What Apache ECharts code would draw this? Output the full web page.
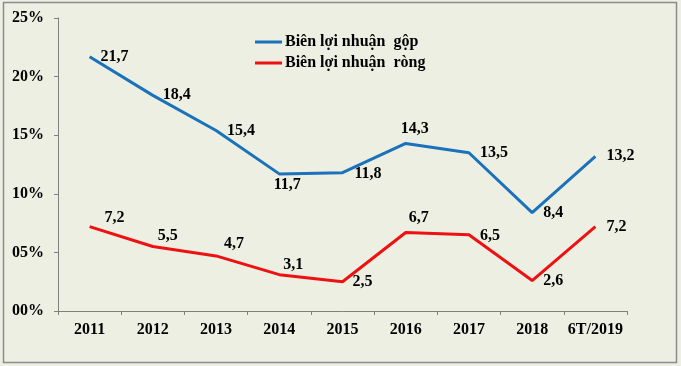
<!DOCTYPE html>
<html>
<head>
<meta charset="utf-8">
<script src="https://cdn.jsdelivr.net/npm/echarts@6/dist/echarts.min.js"></script>
<style>
html,body{margin:0;padding:0;background:#eeefe3;}
#chart{width:681px;height:366px;}
</style>
</head>
<body>
<div id="chart"></div>
<script>
// ---- data ----
var categories = ['2011','2012','2013','2014','2015','2016','2017','2018','6T/2019'];
var grossMargin = [21.7, 18.4, 15.4, 11.7, 11.8, 14.3, 13.5, 8.4, 13.2];
var netMargin = [7.2, 5.5, 4.7, 3.1, 2.5, 6.7, 6.5, 2.6, 7.2];
var seriesNames = ['Biên lợi nhuận  gộp', 'Biên lợi nhuận  ròng'];
var yTicks = [0, 5, 10, 15, 20, 25];

// ---- label placement (style) ----
var grossPlace = [
  {p:'right', d:11, o:[0,0]},
  {p:'right', d:10, o:[0,0]},
  {p:'right', d:11, o:[0,0]},
  {p:'bottom', d:3, o:[8,0]},
  {p:'right', d:12, o:[0,1]},
  {p:'top', d:7, o:[9,0]},
  {p:'right', d:11, o:[0,0]},
  {p:'right', d:11, o:[0,0]},
  {p:'right', d:11, o:[0,0]}
];
var netPlace = [
  {p:'right', d:15, o:[0,-9]},
  {p:'top', d:3, o:[15,0]},
  {p:'top', d:4, o:[18,0]},
  {p:'top', d:2, o:[14,0]},
  {p:'right', d:10, o:[0,0]},
  {p:'top', d:7, o:[13,0]},
  {p:'right', d:11, o:[0,1]},
  {p:'right', d:11, o:[0,0]},
  {p:'right', d:11, o:[0,0]}
];

var FONT = '"Liberation Serif","Times New Roman",serif';
function fmt(v){ return v.toFixed(1).replace('.', ','); }
function build(vals, place){
  return vals.map(function(v, i){
    return {
      value: v,
      label: {
        show: true,
        position: place[i].p,
        distance: place[i].d,
        offset: place[i].o,
        formatter: function(){ return fmt(v); },
        fontFamily: FONT, fontWeight: 'bold', fontSize: 16, color: '#000'
      }
    };
  });
}

var chart = echarts.init(document.getElementById('chart'));
chart.setOption({
  backgroundColor: '#eeefe3',
  animation: false,
  graphic: [{
    type: 'rect', shape: {x: 3.5, y: 2.5, width: 673, height: 360},
    style: {fill: 'none', stroke: '#8a8a8a', lineWidth: 1.5}, silent: true
  }],
  grid: {left: 58, right: 54, top: 18, bottom: 55, containLabel: false},
  legend: {
    orient: 'vertical', left: 255, top: 34, padding: 0,
    icon: 'rect', itemWidth: 27, itemHeight: 3, itemGap: 5,
    textStyle: {fontFamily: FONT, fontWeight: 'bold', fontSize: 16, color: '#000', padding: [0,0,0,-2]},
    data: seriesNames
  },
  xAxis: {
    type: 'category', data: categories, boundaryGap: true,
    axisLine: {lineStyle: {color: '#7f7f7f', width: 1}},
    axisTick: {show: true, length: 4, inside: false, lineStyle: {color: '#7f7f7f'}},
    axisLabel: {margin: 11, fontFamily: FONT, fontWeight: 'bold', fontSize: 16, color: '#000', interval: 0},
    splitLine: {show: false}
  },
  yAxis: {
    type: 'value', min: yTicks[0], max: yTicks[yTicks.length-1], interval: yTicks[1]-yTicks[0],
    axisLine: {show: true, lineStyle: {color: '#7f7f7f', width: 1}},
    axisTick: {show: true, length: 4, lineStyle: {color: '#7f7f7f'}},
    axisLabel: {margin: 14, fontFamily: FONT, fontWeight: 'bold', fontSize: 16, color: '#000',
      formatter: function(v){ return (v < 10 ? '0' + v : '' + v) + '%'; }},
    splitLine: {show: false}
  },
  series: [
    {
      name: seriesNames[0], type: 'line', data: build(grossMargin, grossPlace),
      symbol: 'circle', symbolSize: 0.01, showSymbol: true,
      lineStyle: {color: '#1a72bb', width: 3}, itemStyle: {color: '#1a72bb'}
    },
    {
      name: seriesNames[1], type: 'line', data: build(netMargin, netPlace),
      symbol: 'circle', symbolSize: 0.01, showSymbol: true,
      lineStyle: {color: '#ee1111', width: 3}, itemStyle: {color: '#ee1111'}
    }
  ]
});
</script>
</body>
</html>
